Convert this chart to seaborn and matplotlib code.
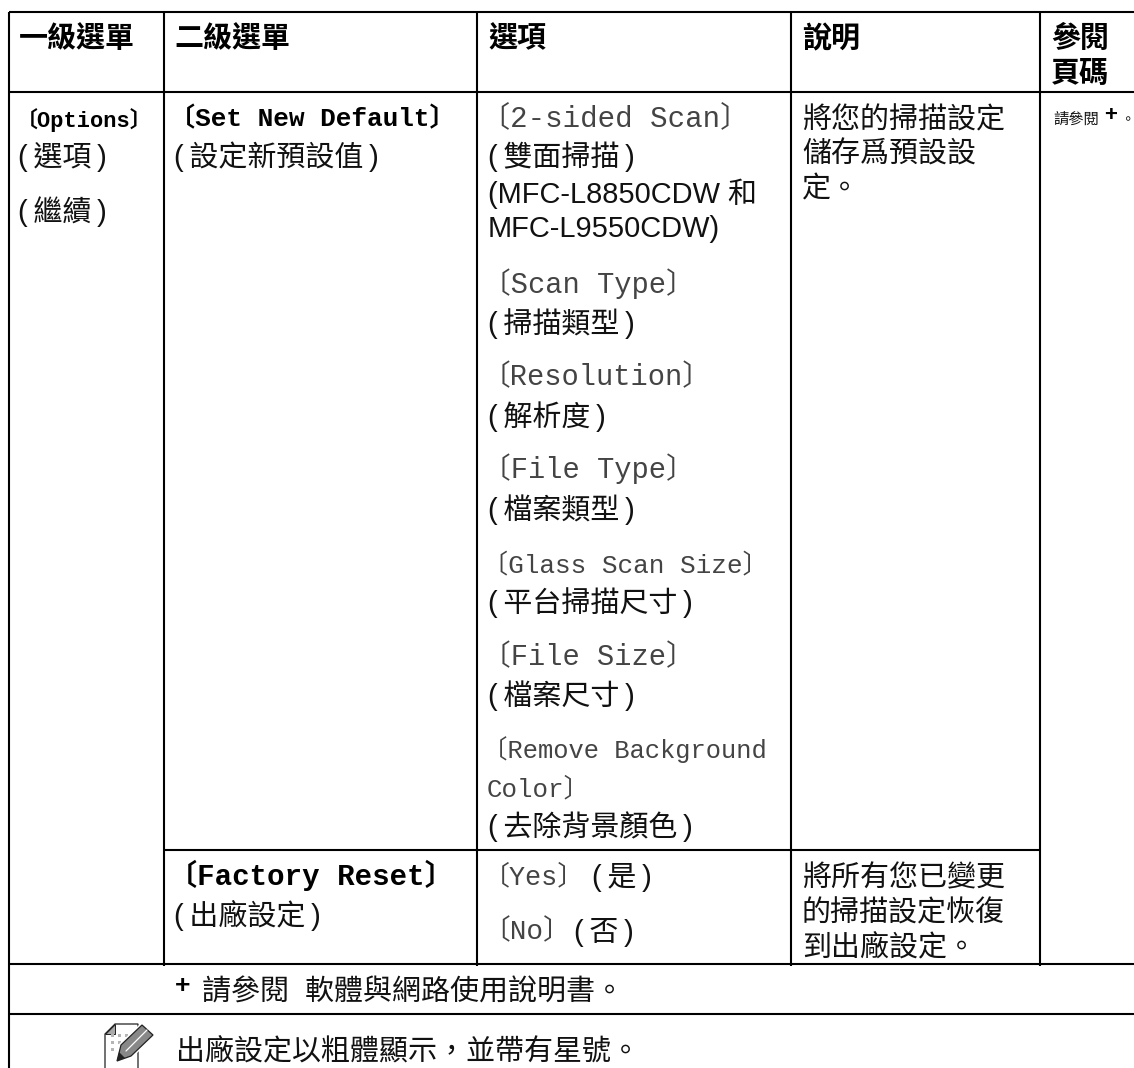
import matplotlib
matplotlib.use('Agg')
import matplotlib.pyplot as plt
import seaborn as sns
from matplotlib.patches import Polygon

# table text, one list per column
headers = ['一級選單', '二級選單', '選項', '說明', '參閱', '頁碼']
menu_1 = ['〔Options〕', '(\u2009選項\u2009)', '(\u2009繼續\u2009)']
menu_2 = ['〔Set New Default〕', '(\u2009設定新預設值\u2009)', '〔Factory Reset〕', '(\u2009出廠設定\u2009)']
option_mono = ['〔2-sided Scan〕', '〔Scan Type〕', '〔Resolution〕', '〔File Type〕',
               '〔Glass Scan Size〕', '〔File Size〕', '〔Remove Background', 'Color〕',
               '〔Yes〕', '〔No〕']
option_cjk = ['(\u2009雙面掃描\u2009)', '(MFC-L8850CDW 和', 'MFC-L9550CDW)', '(\u2009掃描類型\u2009)',
              '(\u2009解析度\u2009)', '(\u2009檔案類型\u2009)', '(\u2009平台掃描尺寸\u2009)',
              '(\u2009檔案尺寸\u2009)', '(\u2009去除背景顏色\u2009)', '(\u2009是\u2009)', '(\u2009否\u2009)']
notes = ['將您的掃描設定', '儲存爲預設設', '定。', '將所有您已變更', '的掃描設定恢復', '到出廠設定。']
footnote = '請參閱  軟體與網路使用說明書。'
note_line = '出廠設定以粗體顯示，並帶有星號。'

# layout, in pixels of the 1134x1068 picture
W, H = 1134, 1068
col_x = [8.5, 164, 477, 791, 1040, W]
row_y = [12, 92, 850, 964, 1014]
lw = 1.5
header_x = [19, 174.5, 488, 802, 1051, 1051]
header_y = [47, 47, 47, 47, 47, 82]
menu_1_y = [127, 166, 221]
menu_2_y = [126, 166, 885, 925]
mono_y = [126, 293, 385, 478, 572, 665, 758, 796, 884, 939]
mono_x = [481, 482, 482, 482, 482, 482, 482, 487, 483, 482]
mono_size = [21, 20.7, 20.7, 20.7, 18.8, 20.7, 18.4, 18.6, 19.4, 20]
cjk_y = [166, 203, 237, 333, 426, 519, 612, 705, 836, 886, 941]
cjk_x = [488, 488, 488, 488, 488, 488, 488, 488, 488, 592, 574]
notes_y = [128, 163, 197, 886, 921, 955]

SANS = ['Liberation Sans', 'Noto Sans CJK TC']
MONO = ['Liberation Mono', 'Noto Sans CJK TC']
CJK_SIZE = 20.9

sns.set_theme(style='white')
plt.rcParams['font.family'] = SANS

fig, ax = plt.subplots(figsize=(W / 100, H / 100), dpi=100)
ax.set_position([0, 0, 1, 1])
ax.set_xlim(0, W)
ax.set_ylim(H, 0)
ax.axis('off')
sns.despine(ax=ax, left=True, bottom=True)


def put(x, y, s, family=SANS, size=CJK_SIZE, weight='normal', color='#111111'):
    ax.text(x, y, s, family=family, fontsize=size, fontweight=weight, color=color, ha='left', va='baseline')


# rules
ax.hlines(row_y[0], col_x[0], W, color='black', lw=lw)
ax.hlines(row_y[1], col_x[0], W, color='black', lw=lw)
ax.hlines(row_y[2], col_x[1], col_x[4], color='black', lw=lw)
ax.hlines(row_y[3], col_x[0], W, color='black', lw=lw)
ax.hlines(row_y[4], col_x[0], W, color='black', lw=lw)
ax.vlines(col_x[0], row_y[0], H, color='black', lw=lw)
ax.vlines(col_x[1:5], row_y[0], row_y[3] + 2, color='black', lw=lw)

# header row
for x, y, s in zip(header_x, header_y, headers):
    put(x, y, s, weight='bold', color='black')

# first level menu
put(16, menu_1_y[0], menu_1[0], family=MONO, size=15.8, weight='bold', color='black')
put(18.5, menu_1_y[1], menu_1[1])
put(18.5, menu_1_y[2], menu_1[2])

# second level menu
put(169, menu_2_y[0], menu_2[0], family=MONO, size=18.8, weight='bold', color='black')
put(174, menu_2_y[1], menu_2[1])
put(168, menu_2_y[2], menu_2[2], family=MONO, size=21, weight='bold', color='black')
put(174, menu_2_y[3], menu_2[3])

# options
for x, y, s, size in zip(mono_x, mono_y, option_mono, mono_size):
    put(x, y, s, family=MONO, size=size, color='#444444')
for x, y, s in zip(cjk_x, cjk_y, option_cjk):
    put(x, y, s)

# description
for y, s in zip(notes_y, notes):
    put(802, y, s)

# page reference
put(1053, 124, '請參閱', size=11)
put(1104, 121, '+', size=16, weight='bold', color='black')
put(1121, 124, '。', size=10.4)

# footer
put(175, 993, '+', size=19, weight='bold', color='black')
put(202, 1001, footnote)
put(176, 1059, note_line)

# note icon
ax.add_patch(Polygon([(105, 1068), (105, 1034), (115, 1024), (138, 1024), (138, 1068)],
                     closed=False, fc='white', ec='#222222', lw=0.9))
ax.add_patch(Polygon([(105, 1034), (115, 1034), (115, 1024)], fc='#aaaaaa', ec='#222222', lw=0.7))
for x in (111, 118, 125):
    for y in (1034, 1041, 1048):
        ax.add_patch(Polygon([(x, y), (x + 3, y), (x + 3, y + 3), (x, y + 3)], fc='#b5b5b5', ec='none'))
ax.add_patch(Polygon([(142, 1025), (153, 1035), (131, 1056), (117, 1061), (121, 1045)],
                     fc='#888888', ec='white', lw=3, joinstyle='miter'))
ax.add_patch(Polygon([(142, 1025), (153, 1035), (131, 1056), (117, 1061), (121, 1045)],
                     fc='#888888', ec='#222222', lw=0.9))
ax.add_patch(Polygon([(117, 1061), (119, 1052), (125, 1058)], fc='#222222', ec='none'))
ax.plot([126, 147], [1051, 1030], color='white', lw=0.9)

fig.savefig('out.png', dpi=100)
plt.close(fig)
